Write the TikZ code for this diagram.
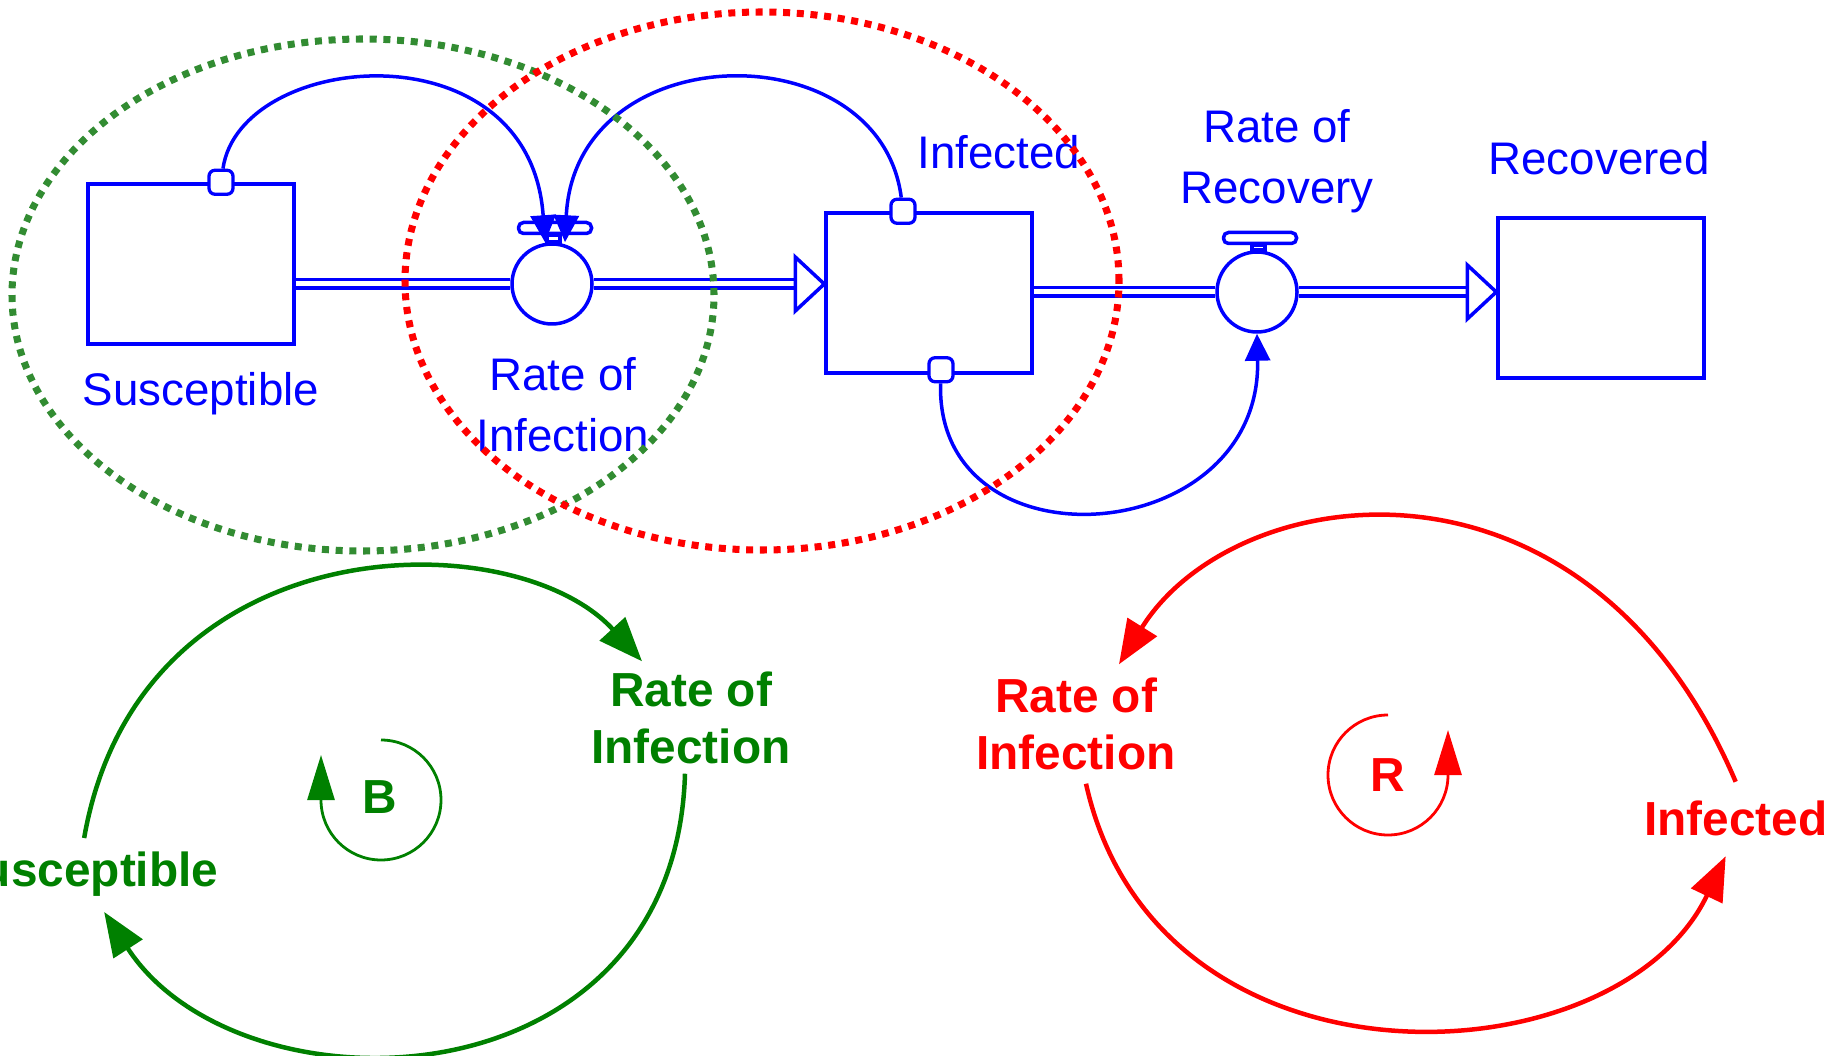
\documentclass[tikz,border=0pt]{standalone}
\usepackage{fontspec}
\setmainfont{Liberation Sans}
\usetikzlibrary{arrows.meta,positioning}
\definecolor{flowblue}{RGB}{0,0,255}
\definecolor{dotgreen}{RGB}{50,140,50}
\definecolor{loopgreen}{RGB}{0,128,0}
\definecolor{loopred}{RGB}{255,0,0}
\begin{document}
\begin{tikzpicture}[x=0.1mm,y=0.1mm,
    stock/.style={draw=flowblue,line width=0.35mm,minimum width=20.6mm,minimum height=16mm,inner sep=0pt},
    valve/.style={circle,draw=flowblue,line width=0.35mm,fill=white,minimum size=8mm,inner sep=0pt},
    valvebar/.style={draw=flowblue,line width=0.35mm,fill=white,rounded corners=0.5mm,minimum width=7.3mm,minimum height=1.1mm,inner sep=0pt},
    cmark/.style={draw=flowblue,line width=0.33mm,fill=white,rounded corners=0.6mm,minimum size=2.4mm,inner sep=0pt},
    pipe/.style={draw=flowblue,line width=0.35mm,double=white,double distance=0.5mm},
    pipehead/.style={draw=flowblue,line width=0.35mm,fill=white},
    link/.style={draw=flowblue,line width=0.35mm,-{Triangle[length=2.7mm,width=2.5mm]}},
    lbl/.style={text=flowblue,font=\fontsize{13pt}{17.4pt}\selectfont,align=center,inner sep=0pt},
    gdots/.style={draw=dotgreen,line width=2pt,dash pattern=on 2pt off 1.9pt},
    rdots/.style={draw=loopred,line width=2pt,dash pattern=on 2pt off 1.9pt},
    gloop/.style={draw=loopgreen,line width=0.45mm,-{Triangle[length=4.4mm,width=3.4mm]}},
    rloop/.style={draw=loopred,line width=0.45mm,-{Triangle[length=4.4mm,width=3.4mm]}},
    gsign/.style={draw=loopgreen,line width=0.28mm,-{Triangle[length=4.5mm,width=2.7mm]}},
    rsign/.style={draw=loopred,line width=0.28mm,-{Triangle[length=4.5mm,width=2.7mm]}},
    gtxt/.style={text=loopgreen,font=\fontsize{13.6pt}{16.2pt}\selectfont\bfseries,align=center,inner sep=0pt},
    rtxt/.style={text=loopred,font=\fontsize{13.6pt}{16.2pt}\selectfont\bfseries,align=center,inner sep=0pt}]
  \useasboundingbox (0,0) rectangle (1837,1055);

  % stock and flow part
  \node[stock] (sus) at (191,791) {};
  \node[stock] (inf) at (929,762) {};
  \node[stock] (rec) at (1601,757) {};
  \node[valve] (roi) at (552,771) {};
  \node[valve] (ror) at (1257,763) {};
  \node[valvebar] (roibar) at (555,827) {};
  \node[valvebar] (rorbar) at (1260,817) {};
  \draw[pipehead] ([xshift=-0.8mm]roibar.south) rectangle ([xshift=0.8mm]roi.north);
  \draw[pipehead] ([xshift=-0.8mm]rorbar.south) rectangle ([xshift=0.8mm]ror.north);

  \path (inf.west |- roi) ++(-29,0) coordinate (headone);
  \path (rec.west |- ror) ++(-29,0) coordinate (headtwo);
  \draw[pipe] (sus.east |- roi) -- (roi);
  \draw[pipe] (roi) -- (headone);
  \draw[pipehead] (inf.west |- roi) -- ++(-29,27) -- ++(0,-54) -- cycle;
  \draw[pipe] (inf.east |- ror) -- (ror);
  \draw[pipe] (ror) -- (headtwo);
  \draw[pipehead] (rec.west |- ror) -- ++(-29,27) -- ++(0,-54) -- cycle;

  \node[cmark] (smark) at ([xshift=3mm]sus.north) {};
  \node[cmark] (imarktop) at ([xshift=-2.6mm]inf.north) {};
  \node[cmark] (imarkbot) at ([xshift=1.2mm,yshift=0.5mm]inf.south) {};

  \draw[link] (smark) .. controls +(19,132) and +(-15,218) .. ([xshift=-0.7mm]roi.north);
  \draw[link] (imarktop) .. controls +(-23,181) and +(10,208) .. ([xshift=1.3mm]roi.north);
  \draw[link] (imarkbot) .. controls +(-6,-203) and +(5,-216) .. (ror.south);

  \node[lbl] (suslbl) at (201,661) {Susceptible};
  \node[lbl] (roilbl) at (563,650) {Rate of\\Infection};
  \node[lbl] (inflbl) at (999,903) {Infected};
  \node[lbl] (rorlbl) at (1277,894) {Rate of\\Recovery};
  \node[lbl] (reclbl) at (1599,897) {Recovered};

  \draw[gdots] (363,760) ellipse [x radius=35.1mm,y radius=25.6mm];
  \draw[rdots] (762,774) ellipse [x radius=35.7mm,y radius=26.9mm];

  % balancing loop
  \node[gtxt,anchor=east] (gsus) at (219,181) {Susceptible};
  \node[gtxt] (groi) at (691,337) {Rate of\\Infection};
  \node[gtxt] (bsign) at (380,258) {B};
  \draw[gloop] ([yshift=1.3mm]gsus.north) .. controls +(55,316) and +(-128,140) .. ([xshift=-4.9mm,yshift=1mm]groi.north);
  \draw[gloop] ([xshift=-0.6mm,yshift=-0.9mm]groi.south) .. controls +(-10,-337) and +(135,-208) .. ([xshift=2mm,yshift=-1.5mm]gsus.south);
  \draw[gsign] (381,315) arc[start angle=90,end angle=-180,radius=6mm] -- ++(0,45);

  % reinforcing loop
  \node[rtxt,anchor=east] (rinf) at (1828,237) {Infected};
  \node[rtxt] (rroi) at (1076,331) {Rate of\\Infection};
  \node[rtxt] (rsignlbl) at (1388,280) {R};
  \draw[rloop] ([yshift=1.8mm]rinf.north) .. controls +(-150,352) and +(116,186) .. ([xshift=4.3mm,yshift=1.3mm]rroi.north);
  \draw[rloop] ([xshift=1mm,yshift=-1.3mm]rroi.south) .. controls +(71,-320) and +(-109,-228) .. ([xshift=-1mm,yshift=-2mm]rinf.south);
  \draw[rsign] (1388,340) arc[start angle=90,end angle=360,radius=6mm] -- ++(0,45);
\end{tikzpicture}
\end{document}
